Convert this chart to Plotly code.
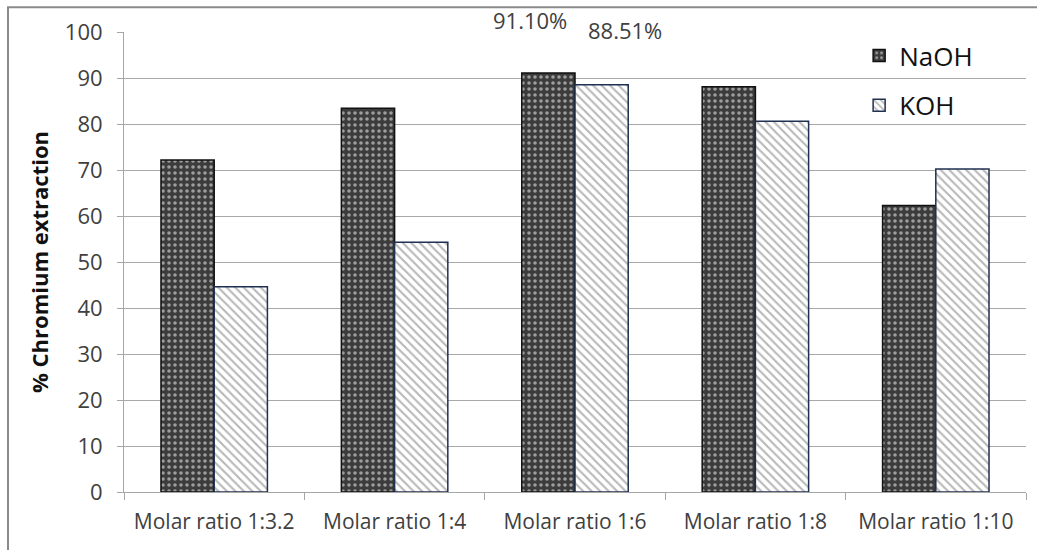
import plotly.graph_objects as go

categories = ["Molar ratio 1:3.2", "Molar ratio 1:4", "Molar ratio 1:6", "Molar ratio 1:8", "Molar ratio 1:10"]
naoh = [72.2, 83.4, 91.10, 88.1, 62.3]
koh = [44.6, 54.3, 88.51, 80.6, 70.2]
label_naoh = "91.10%"
label_koh = "88.51%"

FONT = "Open Sans"
TXT = "#404040"

fig = go.Figure()
fig.add_trace(go.Bar(
    x=categories, y=naoh, name="NaOH", legendgroup="a",
    marker=dict(color="#3c3c3c", line=dict(color="#111111", width=1.5),
                pattern=dict(shape=".", fgcolor="white", bgcolor="#3c3c3c", size=6, solidity=0.28)),
))
fig.add_trace(go.Bar(
    x=categories, y=koh, name="KOH", legendgroup="b",
    marker=dict(color="white", line=dict(color="#1f3050", width=1.5),
                pattern=dict(shape="\\", fgcolor="#707070", bgcolor="white", size=6, solidity=0.35)),
))

fig.add_annotation(x=categories[2], y=naoh[2], text=label_naoh, showarrow=False,
                   xshift=-45, yshift=53, yanchor="middle", font=dict(family=FONT, size=22, color=TXT))
fig.add_annotation(x=categories[2], y=koh[2], text=label_koh, showarrow=False,
                   xshift=50, yshift=55, yanchor="middle", font=dict(family=FONT, size=22, color=TXT))

fig.add_shape(type="rect", xref="paper", yref="paper", x0=-0.1286, x1=1.2, y0=-0.3, y1=1.054,
              line=dict(color="#8a8a8a", width=2), fillcolor="rgba(0,0,0,0)", layer="below")

fig.update_layout(
    width=1037, height=550,
    margin=dict(l=124, r=11, t=32, b=58, autoexpand=False),
    paper_bgcolor="white", plot_bgcolor="white",
    barmode="group", bargap=0.41, bargroupgap=0,
    font=dict(family=FONT, color=TXT),
    showlegend=True,
    legend=dict(x=0.815, y=1.0, xanchor="left", yanchor="top", bgcolor="rgba(0,0,0,0)",
                font=dict(family=FONT, size=26, color="#111111"), tracegroupgap=13),
    xaxis=dict(showgrid=False, showline=True, linecolor="#a6a6a6", linewidth=1,
               ticks="outside", tickson="boundaries", ticklen=7, tickcolor="#a6a6a6",
               ticklabelstandoff=11,
               tickfont=dict(family=FONT, size=21, color=TXT)),
    yaxis=dict(range=[0, 100], dtick=10, showgrid=True, gridcolor="#a8a8a8", gridwidth=1,
               showline=True, linecolor="#a6a6a6", linewidth=1,
               ticks="outside", ticklen=6, tickcolor="#a6a6a6",
               ticklabelstandoff=10,
               tickfont=dict(family=FONT, size=22, color=TXT),
               title=dict(text="<b>% Chromium extraction</b>", font=dict(family=FONT, size=22, color="#111111"), standoff=10),
               zeroline=False),
)

fig.write_html("out.html")
